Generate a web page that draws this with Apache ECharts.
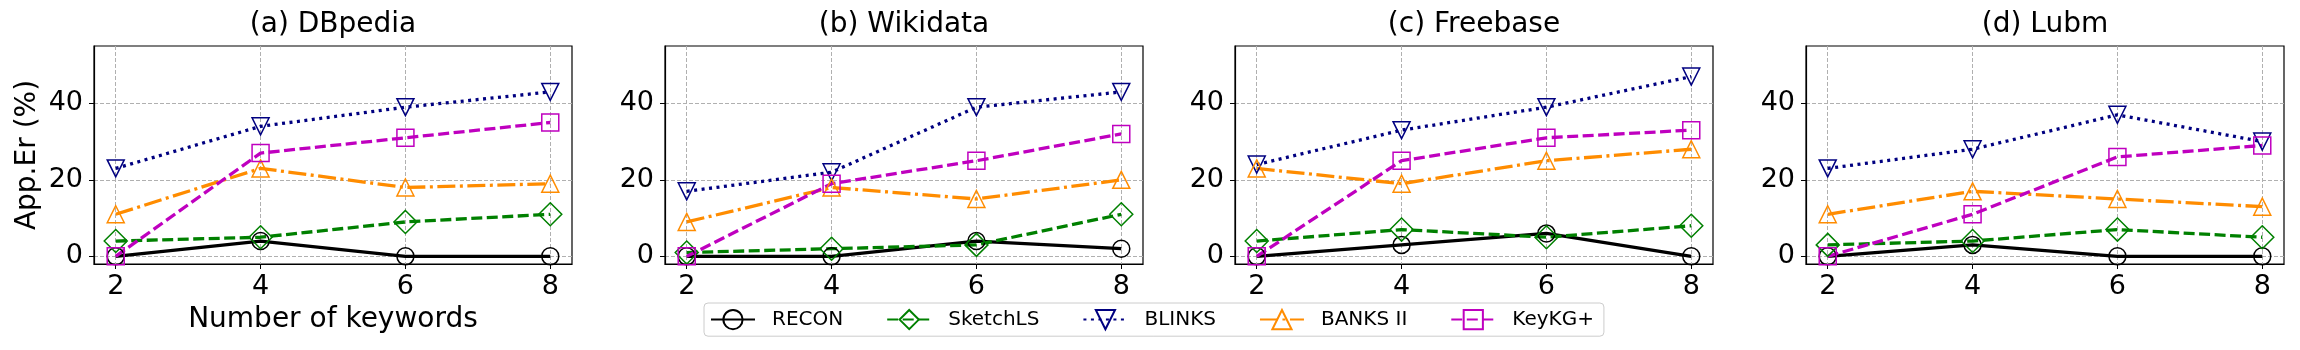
<!DOCTYPE html>
<html>
<head>
<meta charset="utf-8">
<script src="https://cdn.jsdelivr.net/npm/echarts@6/dist/echarts.min.js"></script>
<style>
html, body { margin: 0; padding: 0; background: #fff; }
#main { width: 2300px; height: 350px; }
</style>
</head>
<body>
<div id="main"></div>
<script>
const keywords = [2, 4, 6, 8]
const panelTitles = ['(a) DBpedia', '(b) Wikidata', '(c) Freebase', '(d) Lubm']
const methods = ['RECON', 'SketchLS', 'BLINKS', 'BANKS II', 'KeyKG+']
// one row per panel (DBpedia, Wikidata, Freebase, Lubm), one value per keyword count
const recon = [[0, 4, 0, 0], [0, 0, 4, 2], [0, 3, 6, 0], [0, 3, 0, 0]]
const sketchLS = [[4, 5, 9, 11], [1, 2, 3, 11], [4, 7, 5, 8], [3, 4, 7, 5]]
const blinks = [[23, 34, 39, 43], [17, 22, 39, 43], [24, 33, 39, 47], [23, 28, 37, 30]]
const banks2 = [[11, 23, 18, 19], [9, 18, 15, 20], [23, 19, 25, 28], [11, 17, 15, 13]]
const keykg = [[0, 27, 31, 35], [0, 19, 25, 32], [0, 25, 31, 33], [0, 11, 26, 29]]
const yTicks = [0, 20, 40]

const font = 'DejaVu Sans'
const values = [recon, sketchLS, blinks, banks2, keykg]
const looks = [
  { color: '#000000', dash: 'solid', symbol: 'circle', size: 17, rotate: 0 },
  { color: '#008000', dash: [11, 4.5], symbol: 'diamond', size: 23, rotate: 0 },
  { color: '#000080', dash: [3, 4.5], symbol: 'triangle', size: 17, rotate: 180 },
  { color: '#ff8c00', dash: [18, 4.5, 3, 4.5], symbol: 'triangle', size: 17, rotate: 0 },
  { color: '#bf00bf', dash: [11, 4.5], symbol: 'rect', size: 17, rotate: 0 }
]

const gridLefts = [94, 665, 1235, 1806]
const gridWidth = 478

const grids = []
const xAxes = []
const yAxes = []
const titles = []
const series = []

gridLefts.forEach((left, i) => {
  grids.push({
    left: left, top: 46, width: gridWidth, height: 218,
    show: true, borderColor: '#000', borderWidth: 1.2, backgroundColor: 'transparent'
  })
  titles.push({
    text: panelTitles[i], left: left + gridWidth / 2, top: 11, textAlign: 'center', padding: 0,
    textStyle: { fontFamily: font, fontSize: 28, fontWeight: 'normal', color: '#000' }
  })
  xAxes.push({
    type: 'value', gridIndex: i, min: 1.7, max: 8.3,
    name: i === 0 ? 'Number of keywords' : '',
    nameLocation: 'middle', nameGap: 42,
    nameTextStyle: { fontFamily: font, fontSize: 28, color: '#000' },
    axisLine: { show: true, onZero: false, lineStyle: { color: '#000', width: 1.2 } },
    axisTick: { show: true, length: 5, customValues: keywords, lineStyle: { color: '#000' } },
    axisLabel: { customValues: keywords, margin: 9, fontFamily: font, fontSize: 27, color: '#000' },
    splitLine: { show: true, lineStyle: { color: '#b0b0b0', width: 1, type: [4, 2] } }
  })
  yAxes.push({
    type: 'value', gridIndex: i, min: -2, max: 55,
    name: i === 0 ? 'App.Er (%)' : '',
    nameLocation: 'middle', nameGap: 52,
    nameTextStyle: { fontFamily: font, fontSize: 28, color: '#000' },
    axisLine: { show: true, onZero: false, lineStyle: { color: '#000', width: 1.2 } },
    axisTick: { show: true, length: 5, customValues: yTicks, lineStyle: { color: '#000' } },
    axisLabel: { customValues: yTicks, margin: 11, fontFamily: font, fontSize: 27, color: '#000' },
    splitLine: { show: true, lineStyle: { color: '#b0b0b0', width: 1, type: [4, 2] } }
  })
  methods.forEach((name, m) => {
    const lk = looks[m]
    series.push({
      name: name,
      type: 'line',
      xAxisIndex: i,
      yAxisIndex: i,
      data: keywords.map((k, j) => [k, values[m][i][j]]),
      symbol: lk.symbol,
      symbolSize: lk.size,
      symbolRotate: lk.rotate,
      color: lk.color,
      lineStyle: { color: lk.color, width: 3.3, type: lk.dash },
      itemStyle: { color: 'transparent', borderColor: lk.color, borderWidth: 1.5 },
      emphasis: { disabled: true },
      animation: false
    })
  })
})

const chart = echarts.init(document.getElementById('main'))
chart.setOption({
  backgroundColor: '#fff',
  animation: false,
  title: titles,
  grid: grids,
  xAxis: xAxes,
  yAxis: yAxes,
  legend: {
    data: methods,
    left: 704,
    top: 303,
    itemWidth: 44,
    itemHeight: 24,
    itemGap: 43,
    padding: [6, 10, 6, 6],
    borderColor: '#cccccc',
    borderWidth: 1,
    borderRadius: 4,
    backgroundColor: '#fff',
    textStyle: { fontFamily: font, fontSize: 20, color: '#000', padding: [0, 0, 0, 12] }
  },
  series: series
})
</script>
</body>
</html>
